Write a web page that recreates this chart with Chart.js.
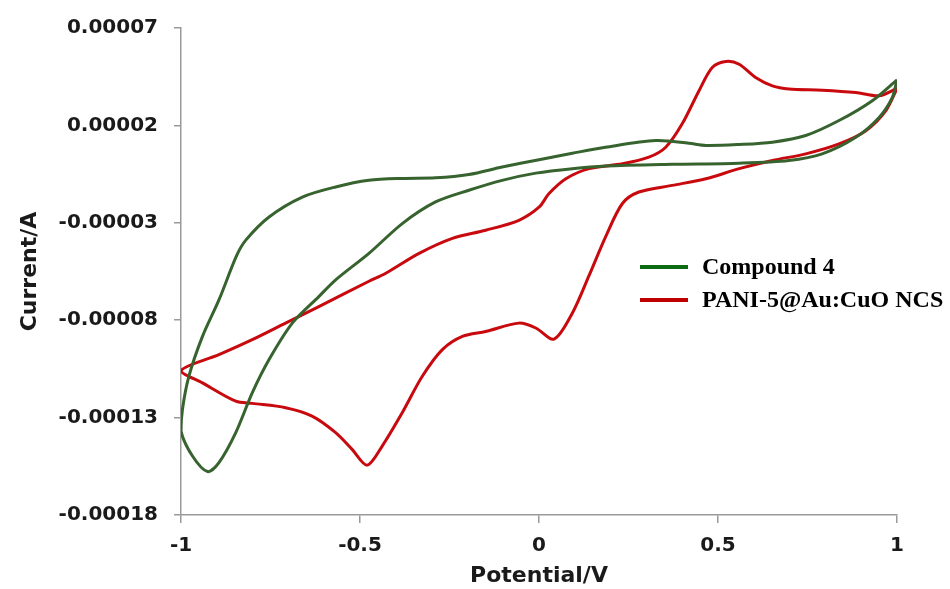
<!DOCTYPE html>
<html>
<head>
<meta charset="utf-8">
<script src="https://cdn.jsdelivr.net/npm/chart.js@4.4.1/dist/chart.umd.min.js"></script>
<style>
  html, body { margin: 0; padding: 0; background: #fff; }
  #cv { display: block; }
</style>
</head>
<body>
<canvas id="cv" width="950" height="589"></canvas>
<script>
// Cyclic voltammograms, potential in V, current in A
const seriesNames = ['Compound 4', 'PANI-5@Au:CuO NCS'];

const compoundPotential = [
  1.0, 0.931, 0.838, 0.745, 0.652, 0.559, 0.466, 0.419, 0.326, 0.186, 0.093, 0.0,
  -0.103, -0.196, -0.289, -0.382, -0.475, -0.568, -0.661, -0.754, -0.819, -0.845,
  -0.894, -0.940, -0.978, -0.996, -1.0, -0.968, -0.926, -0.894, -0.847, -0.801,
  -0.754, -0.689, -0.615, -0.568, -0.475, -0.382, -0.289, -0.196, -0.103, -0.009,
  0.093, 0.186, 0.372, 0.559, 0.698, 0.791, 0.885, 0.950, 0.987, 1.0
];
const compoundCurrent = [
  4.34e-5, 3.27e-5, 2.25e-5, 1.48e-5, 1.14e-5, 1.02e-5, 0.97e-5, 1.08e-5, 1.22e-5, 0.88e-5, 0.57e-5, 0.24e-5,
  -0.14e-5, -0.52e-5, -0.69e-5, -0.72e-5, -0.82e-5, -1.16e-5, -1.68e-5, -2.70e-5, -3.89e-5, -4.70e-5,
  -6.96e-5, -8.83e-5, -10.88e-5, -12.58e-5, -13.69e-5, -14.97e-5, -15.77e-5, -15.31e-5, -13.77e-5, -11.73e-5,
  -10.02e-5, -8.15e-5, -6.79e-5, -5.93e-5, -4.57e-5, -3.04e-5, -1.93e-5, -1.33e-5, -0.82e-5, -0.45e-5,
  -0.22e-5, -0.09e-5, 0.0, 0.06e-5, 0.20e-5, 0.54e-5, 1.39e-5, 2.41e-5, 3.44e-5, 4.34e-5
];

const paniPotential = [
  1.0, 0.950, 0.885, 0.791, 0.698, 0.652, 0.605, 0.559, 0.522, 0.484, 0.447, 0.400,
  0.354, 0.307, 0.233, 0.140, 0.075, 0.028, 0.0, -0.056, -0.149, -0.242, -0.335,
  -0.428, -0.475, -0.615, -0.708, -0.801, -0.894, -1.0, -0.940, -0.847, -0.801,
  -0.708, -0.634, -0.568, -0.522, -0.480, -0.438, -0.382, -0.326, -0.270, -0.214,
  -0.149, -0.056, -0.009, 0.042, 0.093, 0.140, 0.186, 0.233, 0.279, 0.372, 0.466,
  0.559, 0.652, 0.745, 0.838, 0.913, 0.969, 1.0
];
const paniCurrent = [
  3.90e-5, 3.52e-5, 3.69e-5, 3.81e-5, 3.87e-5, 4.03e-5, 4.46e-5, 5.14e-5, 5.28e-5, 4.97e-5, 3.78e-5, 2.08e-5,
  0.88e-5, 0.37e-5, 0.03e-5, -0.22e-5, -0.74e-5, -1.50e-5, -2.20e-5, -2.87e-5, -3.38e-5, -3.80e-5, -4.57e-5,
  -5.59e-5, -6.00e-5, -7.30e-5, -8.15e-5, -9.00e-5, -9.77e-5, -10.59e-5, -11.22e-5, -12.16e-5, -12.27e-5,
  -12.49e-5, -12.92e-5, -13.77e-5, -14.63e-5, -15.44e-5, -14.46e-5, -12.75e-5, -10.88e-5, -9.51e-5, -8.83e-5,
  -8.58e-5, -8.15e-5, -8.40e-5, -8.97e-5, -7.64e-5, -5.70e-5, -3.72e-5, -2.01e-5, -1.42e-5, -1.08e-5, -0.74e-5,
  -0.22e-5, 0.20e-5, 0.54e-5, 1.05e-5, 1.73e-5, 2.76e-5, 3.90e-5
];

const xTicks = [-1, -0.5, 0, 0.5, 1];
const yTicks = [-0.00018, -0.00013, -0.00008, -0.00003, 0.00002, 0.00007];

const seriesColors = ['#37632f', '#c80a0f'];
const legendColors = ['#0b6a12', '#c00000'];

function toPoints(xs, ys) {
  return xs.map((x, i) => ({ x: x, y: ys[i] }));
}

// legend drawn inside the plot, to the right of the curves
const insideLegend = {
  id: 'insideLegend',
  afterDraw(chart) {
    const ctx = chart.ctx;
    ctx.save();
    chart.data.datasets.forEach((ds, i) => {
      const y = 267 + i * 33;
      ctx.strokeStyle = legendColors[i];
      ctx.lineWidth = 4;
      ctx.beginPath();
      ctx.moveTo(640, y);
      ctx.lineTo(688, y);
      ctx.stroke();
      ctx.fillStyle = '#000';
      ctx.font = 'bold 24px "Liberation Serif", "Times New Roman", serif';
      ctx.textBaseline = 'middle';
      ctx.fillText(ds.label, 702, y + 1);
    });
    ctx.restore();
  }
};

const axisColor = '#9a9a9a';
const tickFont = { family: '"DejaVu Sans", Arial, sans-serif', size: 20, weight: 'bold' };
const titleFont = { family: '"DejaVu Sans", Arial, sans-serif', size: 22, weight: 'bold' };

new Chart(document.getElementById('cv').getContext('2d'), {
  type: 'scatter',
  data: {
    datasets: [
      {
        label: seriesNames[0],
        data: toPoints(compoundPotential, compoundCurrent),
        showLine: true,
        borderColor: seriesColors[0],
        borderWidth: 3,
        pointRadius: 0,
        tension: 0.3
      },
      {
        label: seriesNames[1],
        data: toPoints(paniPotential, paniCurrent),
        showLine: true,
        borderColor: seriesColors[1],
        borderWidth: 3,
        pointRadius: 0,
        tension: 0.3
      }
    ]
  },
  options: {
    responsive: false,
    animation: false,
    layout: { padding: { top: 27, right: 53, bottom: 0, left: 0 } },
    plugins: {
      legend: { display: false },
      tooltip: { enabled: false }
    },
    scales: {
      x: {
        type: 'linear',
        min: -1,
        max: 1,
        afterBuildTicks: (scale) => { scale.ticks = xTicks.map(v => ({ value: v })); },
        afterFit: (scale) => { scale.height = 74; },
        ticks: {
          color: '#1a1a1a',
          font: tickFont,
          padding: 11,
          maxRotation: 0,
          callback: (v) => String(v)
        },
        grid: { display: true, drawOnChartArea: false, tickLength: 8, color: axisColor, lineWidth: 1.5 },
        border: { color: axisColor, width: 1.5 },
        title: { display: true, text: 'Potential/V', color: '#1a1a1a', font: titleFont, padding: { top: 0, bottom: 0 } }
      },
      y: {
        type: 'linear',
        min: -0.00018,
        max: 0.00007,
        afterBuildTicks: (scale) => { scale.ticks = yTicks.map(v => ({ value: v })); },
        afterFit: (scale) => { scale.width = 181; },
        ticks: {
          color: '#1a1a1a',
          font: tickFont,
          padding: 16,
          callback: (v) => v.toFixed(5)
        },
        grid: { display: true, drawOnChartArea: false, tickLength: 7, color: axisColor, lineWidth: 1.5 },
        border: { color: axisColor, width: 1.5 },
        title: { display: true, text: 'Current/A', color: '#1a1a1a', font: titleFont, padding: { top: 17, bottom: 0 } }
      }
    }
  },
  plugins: [insideLegend]
});
</script>
</body>
</html>
